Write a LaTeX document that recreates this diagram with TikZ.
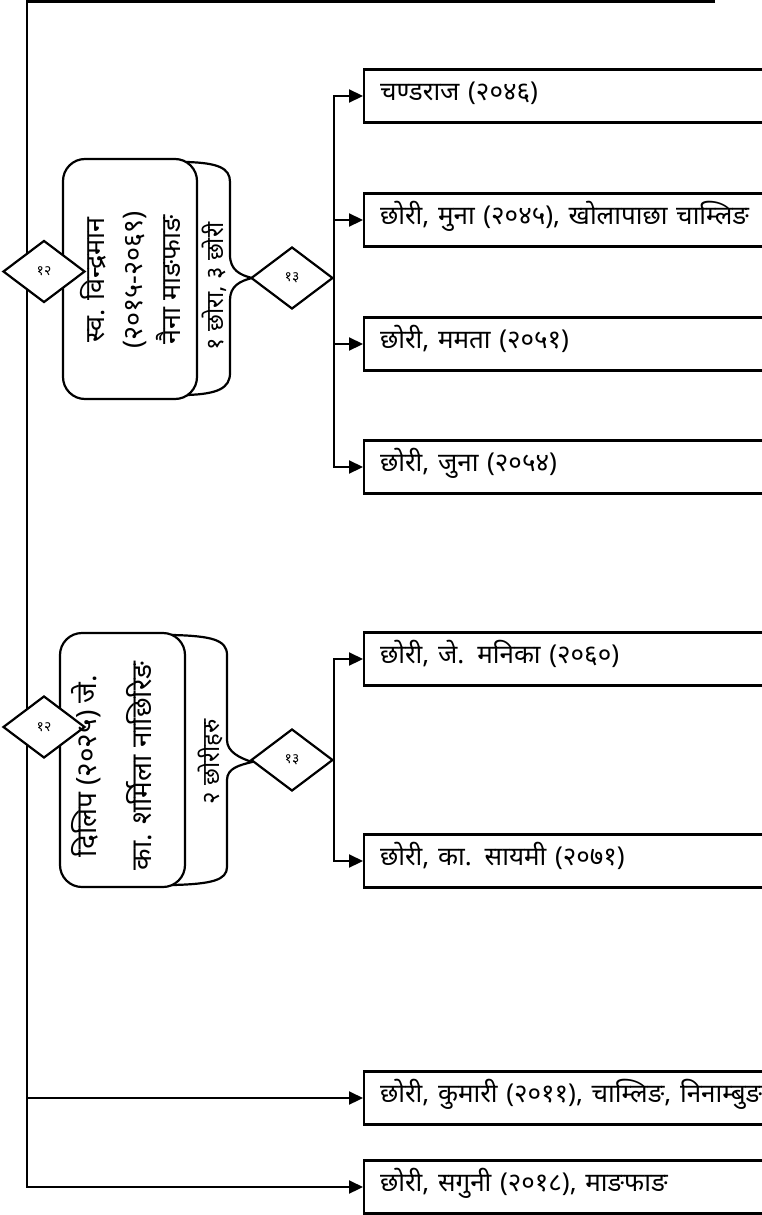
\documentclass[tikz,border=0pt]{standalone}
\usepackage{fontspec}
\newfontfamily\deva[Script=Devanagari]{Noto Sans}
\usetikzlibrary{arrows.meta,shapes.geometric}
\tikzset{
  arr/.style={line width=2.2pt,-{Triangle[length=14pt,width=13pt]}},
  kidbox/.style={draw,line width=2.2pt,fill=white,anchor=west,minimum height=53pt,
    text width=410pt,align=left,inner xsep=16pt,inner ysep=0pt,
    text height=18pt,text depth=10pt,
    font=\deva\fontsize{26}{30}\selectfont},
  rbox/.style={draw,line width=2.2pt,fill=white,rounded corners=22pt,inner sep=0pt},
  backshape/.style={draw,line width=2.2pt,fill=white},
  dia/.style={draw,diamond,line width=2.2pt,fill=white,inner sep=0pt,
    minimum width=82pt,minimum height=62pt,font=\deva\fontsize{14}{16}\selectfont},
  vtext/.style={rotate=90,align=center,inner sep=0pt},
}
\begin{document}
\begin{tikzpicture}[x=1pt,y=-1pt]
\useasboundingbox (0,0) rectangle (762,1215);
\clip (0,0) rectangle (762,1215);
\fill[white] (0,0) rectangle (762,1215);

% kid boxes
\node[kidbox] (b1) at (363,96) {चण्डराज (२०४६)};
\node[kidbox] (b2) at (363,220) {छोरी, मुना (२०४५), खोलापाछा चाम्लिङ};
\node[kidbox] (b3) at (363,344) {छोरी, ममता (२०५१)};
\node[kidbox] (b4) at (363,467) {छोरी, जुना (२०५४)};
\node[kidbox] (c1) at (363,659) {छोरी, जे. मनिका (२०६०)};
\node[kidbox] (c2) at (363,861) {छोरी, का. सायमी (२०७१)};
\node[kidbox] (k1) at (363,1098) {छोरी, कुमारी (२०११), चाम्लिङ, निनाम्बुङ};
\node[kidbox] (k2) at (363,1187) {छोरी, सगुनी (२०१८), माङफाङ};

% main left line
\coordinate (tr) at (715,1.5);
\coordinate (tl) at (27,1.5);
\draw[arr] (tr) -- (tl) |- (k1.west);
\draw[arr] (tl) |- (k2.west);

% group 1
\draw[backshape] (187,162) .. controls (218,163) and (230,168) .. (230,182)
  -- (230,255) .. controls (230,270) and (240,275) .. (252,278)
  .. controls (240,281) and (230,286) .. (230,300)
  -- (230,373) .. controls (230,388) and (218,394) .. (187,395) -- cycle;
\node[rbox,minimum width=134pt,minimum height=240pt] (p1) at (130,279) {};
\node[vtext,font=\deva\fontsize{27}{38}\selectfont] (p1t) at (130,280)
  {स्व. विन्द्रमान\\(२०१५-२०६९)\\नैना माङफाङ};
\node[vtext,font=\deva\fontsize{24}{26}\selectfont] (l1) at (214,286) {१ छोरा, ३ छोरी};
\node[dia] (d12a) at (44,271.5) {१२};
\node[dia] (d13a) at (292,278) {१३};
\draw[arr] (d13a.east) |- (b1.west);
\draw[arr] (d13a.east) |- (b2.west);
\draw[arr] (d13a.east) |- (b3.west);
\draw[arr] (d13a.east) |- (b4.west);

% group 2
\draw[backshape] (173,635) .. controls (212,636) and (227,640) .. (227,655)
  -- (227,740) .. controls (227,752) and (240,758) .. (252,762)
  .. controls (240,765) and (227,768) .. (227,780)
  -- (227,867) .. controls (227,880) and (212,884) .. (173,885) -- cycle;
\node[rbox,minimum width=125pt,minimum height=254pt] (p2) at (122.5,760) {};
\node[dia] (d12b) at (44,727) {१२};
\node[vtext,font=\deva\fontsize{28}{55}\selectfont] (p2t) at (112,766)
  {दिलिप (२०२५) जे.\\का. शर्मिला नाछिरिङ};
\node[vtext,font=\deva\fontsize{24}{26}\selectfont] (l2) at (210,762) {२ छोरीहरु};
\node[dia] (d13b) at (292,760) {१३};
\draw[arr] (d13b.east) |- (c1.west);
\draw[arr] (d13b.east) |- (c2.west);
\end{tikzpicture}
\end{document}
